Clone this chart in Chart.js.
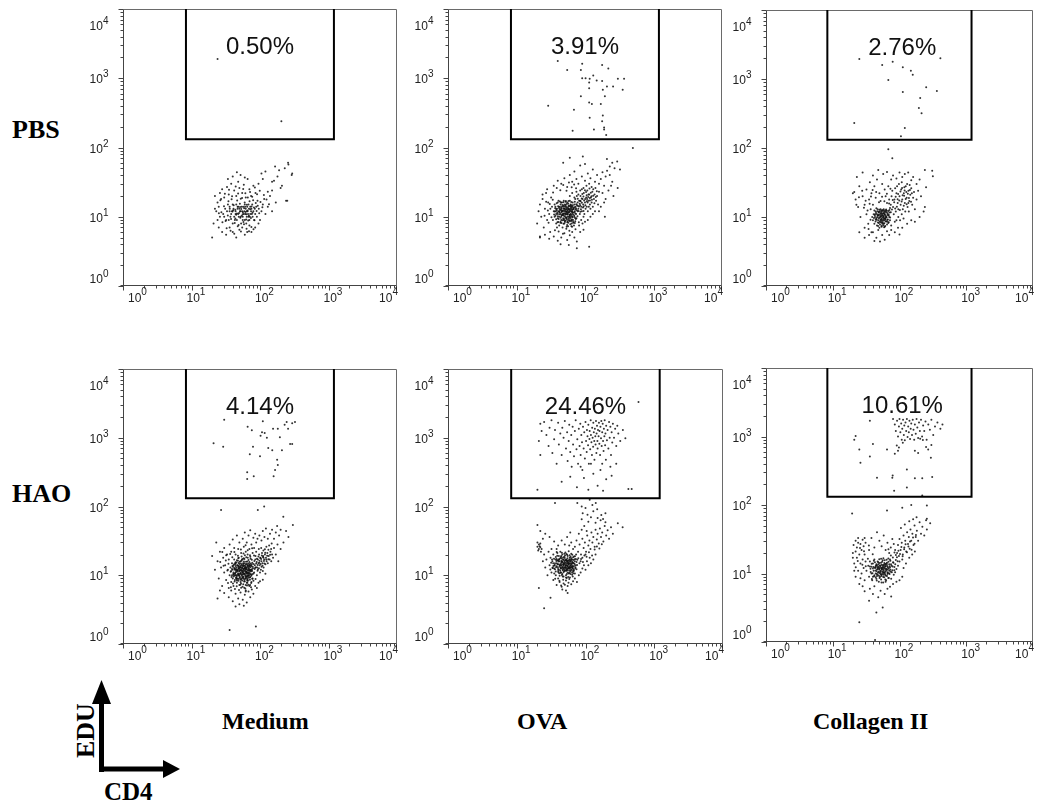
<!DOCTYPE html>
<html>
<head>
<meta charset="utf-8">
<script src="https://cdn.jsdelivr.net/npm/chart.js@4.4.1/dist/chart.umd.min.js"></script>
<style>
  html,body{margin:0;padding:0;background:#fff;width:1044px;height:803px;overflow:hidden;}
  #wrap{position:relative;width:1044px;height:803px;}
  canvas.panel{position:absolute;}
  .lbl{position:absolute;font-family:"Liberation Serif","Times New Roman",serif;font-weight:bold;font-size:24px;color:#000;white-space:nowrap;line-height:1;}
</style>
</head>
<body>
<div id="wrap">
  <div class="lbl" style="left:12px;top:117px;font-size:26px;">PBS</div>
  <div class="lbl" style="left:12px;top:481px;font-size:26px;">HAO</div>
  <div class="lbl" style="left:222px;top:709px;">Medium</div>
  <div class="lbl" style="left:517px;top:709px;">OVA</div>
  <div class="lbl" style="left:813px;top:709px;">Collagen II</div>
  <div class="lbl" style="left:73px;top:758px;transform:rotate(-90deg);transform-origin:0 0;font-size:26px;">EDU</div>
  <div class="lbl" style="left:104px;top:779px;font-size:25px;">CD4</div>
  <svg width="1044" height="803" style="position:absolute;left:0;top:0;pointer-events:none">
    <line x1="101.5" y1="772" x2="101.5" y2="700" stroke="#000" stroke-width="5"/>
    <polygon points="92,704 111,704 101.5,680" fill="#000"/>
    <line x1="99" y1="769" x2="165" y2="769" stroke="#000" stroke-width="5"/>
    <polygon points="163,760 163,778 180,769" fill="#000"/>
  </svg>
</div>
<script>
// ---------- labels & settings ----------
const rowLabels = ['PBS', 'HAO'];
const columnLabels = ['Medium', 'OVA', 'Collagen II'];
const percentages = ['0.50%', '3.91%', '2.76%', '4.14%', '24.46%', '10.61%'];
const tickExponents = [0, 1, 2, 3, 4];
const gateX = [8.3, 1200];
const gateYMin = 132;
const percentLabelX = [100, 100, 110, 100, 100, 110];

// ---------- events: [CD4, EDU] ----------
const pbsMedium = [
[30,10],[33,12],[35,9],[36,14],[38,11],[40,8],[41,13],[42,10],[44,12],[45,15],[46,9],[48,11],[50,13],[52,10],[53,8],[55,12],[57,14],[58,11],[60,9],[62,13],[64,10],[66,12],[68,15],[70,9],[72,11],[75,13],[78,10],[80,12],[85,11],[88,14],
[31,13],[34,15],[37,10],[39,12],[43,9],[47,13],[49,10],[51,12],[54,14],[56,10],[59,12],[61,11],[63,8],[65,14],[67,11],[69,13],[71,10],[74,12],[77,15],[82,9],
[29,11],[32,9],[36,12],[40,15],[44,11],[48,14],[52,12],[56,9],[60,15],[64,12],[68,10],[72,14],[76,11],[84,13],[90,10],
[22,20],[24,16],[26,22],[23,12],[21,8],[25,7],[27,18],[28,25],[30,19],[33,27],[35,21],[38,30],[42,24],[45,20],[48,32],[50,26],[55,22],[58,29],[62,19],[66,35],[70,25],[74,20],[80,28],[86,22],[92,17],[96,13],[100,9],[105,12],[110,15],[115,18],[120,11],[130,14],[140,20],[150,24],
[28,6],[32,5.5],[36,7],[40,6],[45,5],[50,6.5],[55,7],[60,5.5],[65,6],[70,7.5],[75,6],[85,7],[95,8],
[20,5],[34,35],[40,38],[52,40],[60,37],[46,44],[95,30],[105,42],[120,45],[160,33],[180,38],[190,47],[200,26],[230,50],[260,57],[290,40],[250,17],[130,23],[110,35],[150,12],[170,16],[26,10],[25,14],[24,9],[22,13],
[166,53],[257,60],[295,42],[240,17],[150,32],[209,28],
[24,1900],[205,240]
];
const pbsMediumExtra = [
[27.3,11.6],[29.8,14.2],[31.5,8.7],[33.9,10.4],[34.6,16.8],[36.2,13.1],[37.8,9.3],[38.5,17.9],[39.7,11.9],[41.3,14.7],[42.8,8.1],[43.6,12.6],[44.9,10.7],[46.4,17.2],[47.1,13.9],[48.7,7.6],[49.5,11.3],[50.8,15.4],[51.6,9.7],[53.2,12.9],[54.7,18.6],[55.9,10.9],[57.3,8.4],[58.6,13.3],[59.8,16.1],[61.4,11.7],[62.9,9.1],[64.3,14.9],[65.7,12.3],[67.2,8.8],[68.8,10.3],[70.4,16.7],[72.1,12.8],[73.7,9.6],[75.3,14.1],[77.8,11.4],[79.4,17.3],[81.6,13.6],[83.2,8.9],[86.7,15.8],[89.3,12.1],[92.8,14.4],[97.4,11.2],[101.6,16.3],[108.3,13.7],[113.9,20.6],[124.5,17.8],[135.2,15.1],[30.7,21.4],[35.3,24.6],[39.1,19.8],[44.2,27.3],[47.9,21.7],[52.4,18.2],[56.8,25.1],[61.1,21.9],[66.4,18.9],[71.6,22.8],[76.9,19.4],[84.1,26.4],[90.6,21.1],[99.2,23.7],[26.4,17.3],[25.1,11.2],[28.3,8.3],[32.6,6.8],[37.2,6.3],[42.1,5.7],[47.3,7.3],[52.7,6.1],[58.4,7.8],[63.6,6.7],[69.1,6.2],[74.8,7.1],[80.3,6.6],[43.7,9.4],[51.2,13.8],[56.3,11.6],[60.7,13.9],[40.6,12.4],[46.1,11.1],[54.1,10.3],[63.2,10.9]
];

const pbsOva = [
[34,9],[35,12],[36,10],[37,14],[38,8],[38,11],[39,13],[40,9.5],[40,16],[41,12],[42,10],[42,7.5],[43,14],[44,11],[44,8.5],[45,13],[45,9],[46,16],[46,10.5],[47,12],[47,7],[48,14],[48,9.5],[49,11],[49,17],[50,8],[50,13],[51,10],[51,15],[52,12],[52,8.8],[53,11],[53,14],[54,9.5],[54,7.2],[55,12.5],[55,16],[56,10],[56,13.5],[57,8.2],[57,11.5],[58,14.5],[58,9],[59,12],[60,10.5],[60,17],[61,7.8],[61,13],[62,11],[62,15],[63,9],[64,12],[64,8],[65,14],[65,10],[66,16],[67,11.5],[67,9],[68,13],[69,7.5],[70,10],[70,15],[71,12],[72,8.6],[73,14],[74,11],[75,9.5],[36,15],[39,7],[41,17],[43,12.5],[45,10.2],[47,14.8],[50,11.2],[52,16.5],[54,11.8],[56,8.6],[58,12.8],[60,8.8],[62,13.8],[64,10.6],[66,12.6],[68,8.2],[71,16.4],[74,13.2],[44,15],[48,12.2],[53,9.8],[57,15.6],[61,10.8],[37,12],[40,11],[46,12],[51,8.4],[55,10.8],[59,9.8],[63,11.8],[42,13.2],[49,9],[66,9.8],
[80,13],[82,17],[84,11],[86,20],[88,14],[90,12],[92,18],[94,15],[96,22],[98,11],[100,16],[102,13],[104,19],[106,14],[108,24],[110,12],[112,17],[115,21],[118,15],[120,13],[122,19],[125,16],[128,23],[130,14],[135,18],[138,21],[140,12],[145,17],[150,20],[155,15],[78,16],[76,20],[85,24],[95,26],[105,28],[115,30],[125,27],[132,25],[142,26],[160,23],
[60,20],[65,22],[70,19],[75,23],[80,21],[85,17],[90,25],[72,18],[78,12],[88,9],[95,10],[100,8.5],[110,9],[120,10],[130,11],[92,8],[82,7.5],
[20,8],[21,12],[22,15],[23,10],[24,18],[25,7],[26,13],[27,22],[28,9],[29,16],[30,11],[31,6],[32,19],[33,14],[28,25],[24,21],[22,5],[26,5.5],[30,4.8],[35,5.2],[40,4.5],[45,5],[50,5.8],[55,4.6],[60,5.4],[65,6],[70,5],[76,4.4],[85,6],[95,6.5],[115,3.7],[76,3.5],[22,5.2],[58,3.9],[44,4],
[35,28],[40,33],[45,30],[50,36],[55,27],[60,40],[65,32],[70,45],[75,35],[80,30],[90,38],[100,33],[110,42],[120,36],[130,48],[140,32],[150,40],[160,30],[170,35],[180,44],[190,28],[200,38],[210,46],[230,40],[250,32],[270,50],[295,63],[324,48],[209,68],[230,53],[500,98],[93,74],[60,71],[195,10],[48,60],[85,55],[100,58],[250,60],[180,22],[200,18],[170,14],[220,24],[240,28],[260,20],[300,26],[160,12],[190,16],
[40,1780],[55,1320],[91,1620],[178,1550],[219,1380],[87,1320],[91,1000],[102,1000],[117,980],[132,1100],[148,930],[115,870],[178,910],[302,980],[372,980],[209,760],[257,760],[355,680],[115,720],[182,680],[87,550],[195,550],[115,445],[126,425],[170,425],[29,400],[69,350],[182,290],[117,270],[178,240],[190,195],[135,182],[66,174],[204,151],[190,182]
];
const pbsOvaExtra = [
[35.4,10.8],[36.7,13.3],[37.9,9.2],[38.6,15.7],[39.3,11.4],[40.8,8.4],[41.6,13.8],[42.4,10.9],[43.1,16.6],[44.3,9.7],[45.7,12.3],[46.2,14.1],[46.9,8.9],[47.8,11.1],[48.3,16.2],[49.2,10.3],[49.9,13.2],[50.6,8.7],[51.4,12.6],[52.1,14.7],[52.8,9.6],[53.6,11.7],[54.3,15.3],[55.1,8.3],[55.8,10.9],[56.6,13.1],[57.4,16.9],[58.2,9.4],[58.9,11.6],[59.7,14.2],[60.4,8.6],[61.2,12.2],[62.1,10.1],[62.8,16.3],[63.7,13.4],[64.6,9.1],[65.3,11.3],[66.2,14.6],[67.4,8.4],[68.3,12.9],[69.6,10.4],[70.8,13.7],[72.3,11.1],[73.4,9.3],[74.6,15.2],[76.2,12.4],[77.6,10.2],[79.1,14.3],[36.1,11.9],[38.1,12.8],[40.2,10.2],[41.9,11.8],[44.8,13.5],[47.3,10.6],[50.2,12.1],[53.1,13.4],[56.2,12.1],[59.3,10.7],[61.8,14.7],[64.1,12.7],[67.1,10.8],[45.1,11.6],[48.9,14.5],[52.4,11.2],[57.9,12.9],[43.7,8.2],[54.8,7.6],[63.4,7.3],[71.2,8.1],
[83.7,15.4],[87.2,12.8],[89.6,18.3],[93.4,13.6],[97.1,17.2],[101.3,14.7],[105.8,20.4],[109.2,16.1],[113.7,13.9],[117.4,18.7],[121.6,22.3],[126.3,17.6],[131.8,20.1],[137.2,15.7],[143.6,19.3],[148.9,23.4],[91.3,21.3],[99.7,24.1],[107.4,18.1],[116.2,25.6],[86.4,16.7],[94.8,19.6],[103.6,22.8],[112.4,20.9],[124.1,19.8],[78.4,18.2],[81.9,14.1],[85.6,11.8],[95.2,12.1],
[28.7,12.3],[30.6,15.3],[32.4,9.8],[33.8,17.6],[31.2,13.1],[27.1,16.4],[25.7,10.3],[29.4,8.2],[34.2,22.4],[38.7,26.1],[43.6,24.2],[48.1,28.7],[53.7,23.8],[58.3,31.2],[63.9,26.7],[69.4,29.3],[74.1,25.8],[36.4,6.4],[41.2,6.1],[47.6,5.7],[53.4,6.7],[59.1,6.3],[64.8,7.2],[72.6,6.6],[81.3,8.3]
];
const pbsOvaDense = [
[37.1,10.3],[38.8,12.2],[40.5,14.2],[41.3,9.3],[42.6,11.6],[44.1,12.6],[45.4,8.1],[46.6,10.8],[48.1,13.1],[49.6,9.3],[50.9,14.1],[51.7,10.7],[53.3,12.8],[54.6,9.1],[56.1,11.3],[57.1,14.1],[58.6,10.1],[60.1,12.6],[61.6,9.6],[63.1,14.3],[65.1,11.9],[67.6,13.6],[70.1,11.6],[73.1,12.7],[76.6,14.7],[80.6,12.1],[85.1,14.6],[90.1,15.9],[95.6,14.1],[100.6,18.1],[106.1,16.7],[111.1,19.3],[118.1,17.1],[44.6,16.1],[52.6,16.9],[39.6,8.3],[48.6,7.9],[56.6,7.3],[64.1,8.7],[71.6,9.6]
];

const pbsCollagen = [
[40,9],[41,11],[42,8],[43,10],[44,12],[45,9.5],[46,7.5],[46,11],[47,13],[48,9],[48,10.5],[49,8.2],[50,12],[50,9.8],[51,7.8],[51,11],[52,10],[52,13],[53,8.8],[53,11.8],[54,9.4],[54,7.2],[55,10.6],[55,12.6],[56,8.4],[56,9.9],[57,11.4],[57,7.6],[58,10.2],[58,13],[59,8.9],[59,12],[60,9.6],[60,11],[61,7.4],[62,10.4],[62,12.4],[63,8.6],[64,9.8],[64,11.6],[65,7.8],[66,10.8],[67,9.2],[68,12.2],[69,8.4],[70,10],[71,11.6],[72,9],[42,12.4],[44,9.2],[47,10.4],[49,11.8],[52,8.4],[54,11.2],[57,9.2],[60,7.2],[63,12.8],[66,8.6],[45,13.4],[50,7],[55,8],[61,9.4],[68,10.6],[43,11],[58,8],[53,10.2],
[80,14],[84,18],[88,12],[90,22],[94,16],[96,13],[100,20],[104,15],[106,25],[110,18],[112,13],[116,22],[120,16],[124,28],[128,19],[132,14],[136,24],[140,17],[145,21],[150,26],[155,15],[160,19],[165,23],[170,13],[86,26],[92,28],[98,30],[108,32],[118,27],[130,30],[142,29],[76,20],[82,11],[96,10],[108,11],[122,12],[138,12],[102,9],[115,9.5],[74,15],[78,24],[70,18],[65,16],[62,20],[72,13.5],[90,9],[85,8.5],[75,7.5],
[20,22],[22,18],[24,14],[25,28],[26,10],[28,20],[30,7],[30,15],[32,25],[32,11],[34,8],[35,18],[36,32],[37,13],[38,6],[38,22],[39,10],[40,15],[40,40],[42,28],[44,19],[46,35],[50,22],[52,17],[55,30],[57,42],[60,25],[68,28],[75,35],[80,40],[90,36],[100,44],[110,38],[120,42],[150,34],[160,38],[180,30],[200,35],[240,48],[316,39],[309,47],[240,14],[170,8.5],[21,23],[23,38],[48,48],[28,44],[65,45],[135,44],[190,24],[210,20],[180,18],[250,27],[230,12],[200,10],
[35,5.5],[40,6],[45,5],[51,4.4],[60,4.7],[55,5.5],[65,6.2],[70,5.5],[75,6.5],[85,6],[95,7],[110,7],[130,8],[150,9],[42,4.5],[48,6.5],[30,5],[25,6],[100,5.6],
[25,1950],[55,1590],[79,1780],[68,970],[112,1480],[148,1320],[158,1150],[112,650],[251,760],[363,670],[204,530],[195,380],[214,320],[21,230],[120,195],[105,148],[410,2000],[68,96],[78,71]
];
const pbsCollagenExtra = [
[41.4,9.7],[42.7,10.6],[43.8,8.6],[44.6,11.4],[45.3,9.1],[46.7,12.1],[47.5,8.3],[48.4,10.8],[49.1,9.6],[49.8,12.7],[50.6,8.6],[51.3,10.4],[52.4,11.3],[53.1,9.3],[53.8,7.4],[54.6,10.7],[55.3,12.2],[56.1,8.9],[56.9,11.1],[57.7,9.7],[58.4,12.4],[59.2,8.1],[60.1,10.8],[60.9,9.2],[61.8,11.9],[62.6,8.7],[63.5,10.1],[64.4,12.3],[65.6,9.1],[66.7,11.3],[67.8,8.2],[69.2,10.7],[70.6,12.6],[72.4,9.8],[74.1,11.7],[46.2,9.9],[48.9,11.6],[51.8,9.1],[54.2,8.4],[57.2,10.3],[59.7,11.4],[62.3,9.9],[47.8,7.4],[52.9,12.3],[58.8,7.1],
[83.2,16.4],[87.6,19.7],[91.4,14.1],[95.3,21.6],[99.1,17.3],[103.2,23.4],[107.6,16.8],[111.3,20.7],[115.8,14.6],[119.4,24.3],[123.7,18.2],[127.9,15.3],[133.1,21.8],[138.6,18.9],[143.2,24.7],[148.7,16.7],[153.4,22.1],[86.1,13.3],[93.7,18.1],[101.4,12.6],[109.3,26.4],[117.2,20.3],[126.4,23.1],[135.7,15.9],[79.3,17.6],[77.1,12.8],
[33.2,12.4],[35.7,15.6],[37.4,19.8],[31.1,17.2],[29.3,13.6],[27.6,24.1],[24.7,19.3],[22.6,15.1],[36.8,9.1],[34.4,6.7],[39.6,24.6],[44.7,23.1],[49.3,16.4],[54.8,19.6],[59.4,16.9],[64.7,21.7],[69.8,15.7],[73.2,25.6]
];

const haoMedium = [
[36,10],[37,13],[38,8],[38,11.5],[39,15],[40,9],[40,12],[41,7],[41,14],[42,10.5],[42,17],[43,8.5],[43,12.5],[44,11],[44,15.5],[45,9.2],[45,13],[46,7.8],[46,10],[46,16.5],[47,11.8],[47,14],[48,8.8],[48,12.8],[49,10.2],[49,18],[50,7.2],[50,11.4],[50,14.6],[51,9.4],[51,13.2],[52,8],[52,10.8],[52,16],[53,12],[53,6.6],[54,9.8],[54,14.2],[55,11],[55,8.4],[56,12.6],[56,17.2],[57,10.4],[57,7.4],[58,13.8],[58,9],[59,11.6],[59,15],[60,8.2],[60,10.6],[61,12.8],[61,6.4],[62,9.6],[62,14.4],[63,11.2],[63,18.2],[64,7.8],[64,12.2],[65,10],[65,15.8],[66,8.6],[66,13.4],[67,11],[68,9.2],[68,16.6],[69,12.4],[70,7],[70,10.8],[71,14],[72,9.4],[72,12],[73,17.4],[74,10.2],[75,8],[75,13.6],[76,11.4],[77,15.2],[78,9],[79,12.6],[39,10],[41,11],[43,9.8],[45,11.2],[47,9],[49,13.6],[51,11.6],[53,9],[55,13.8],[57,12],[59,8.6],[61,10],[63,13],[65,8.4],[67,14.8],[69,9.8],[71,11.8],[73,10.4],[44,13.6],[48,10.6],[52,13.8],[56,9.4],[60,12.8],[64,9.4],[68,11.6],[72,14.8],[46,8.4],[54,16.2],[62,7.2],[58,17.6],[50,9.8],[66,10.6],[42,14.4],[76,16.8],
[91,13],[93,17],[95,15],[97,20],[99,14],[101,18],[103,12],[105,16],[107,21],[109,15],[111,19],[113,13],[115,17],[118,20],[120,14.5],[122,18],[125,16],[128,21],[130,15],[134,19],[138,17],[142,22],[146,16],[150,20],[155,18],[86,19],[84,14],[88,22],[96,24],[104,25],[112,23],[124,26],[136,27],[148,29],[160,25],[82,11],[90,10],[100,11],[110,11.5],[120,10.5],
[20,19],[22,12],[23,30],[24,16],[25,9],[26,22],[27,13],[28,7],[29,18],[30,11],[30,25],[31,14],[32,8.5],[33,20],[34,12],[35,6.5],[35,17],[36,28],[38,22],[40,33],[42,25],[44,20],[46,38],[48,24],[50,30],[53,21],[56,34],[58,26],[60,42],[62,22],[64,30],[66,20],[68,38],[70,24],[72,45],[75,28],[78,21],[80,35],[82,25],[85,40],[88,30],[92,34],[98,38],[105,32],[110,44],[116,36],[122,48],[130,34],[140,40],[150,46],[160,34],[170,42],[178,52],[190,38],[200,46],[219,71],[302,54],[240,44],[260,36],[220,30],[200,24],[180,28],[170,20],[185,16],[36,1.6],[87,1.8],[27,89],[93,89],[115,100],
[30,5.5],[35,4.8],[38,6],[40,4.2],[44,5.4],[48,4.6],[50,3.8],[52,5.6],[56,4.4],[60,5.2],[64,4],[68,5.8],[72,4.8],[76,6.2],[80,5.4],[85,7],[90,6.5],[95,7.8],[100,8.2],[110,8.6],[44,3.5],[58,3.6],[62,6],[26,6],[24,4.6],
[30,1820],[21,830],[29,740],[66,1440],[110,1740],[155,1350],[182,1350],[245,1700],[295,1620],[257,1350],[195,1020],[126,1000],[102,1070],[132,710],[151,660],[209,660],[295,810],[79,740],[71,575],[100,540],[178,480],[182,400],[166,340],[158,275],[65,316],[81,275],[65,251],[107,1200],[117,1175],[76,1290],[229,1550],[324,1700],[275,810]
];
const haoMediumExtra = [
[37.3,11.2],[38.4,9.4],[39.6,13.6],[40.7,10.4],[41.8,12.7],[42.6,8.1],[43.4,14.9],[44.2,10.1],[45.1,12.2],[45.8,9.7],[46.6,13.9],[47.3,11.3],[48.1,8.3],[48.9,15.1],[49.6,11.9],[50.4,9.1],[51.2,12.9],[51.9,10.7],[52.7,14.8],[53.4,8.7],[54.1,11.5],[54.9,13.1],[55.6,9.3],[56.4,10.9],[57.1,14.4],[57.9,12.3],[58.6,8.1],[59.4,10.3],[60.2,13.7],[60.9,11.5],[61.7,9.1],[62.5,15.7],[63.3,10.6],[64.1,12.7],[64.9,8.9],[65.8,11.8],[66.6,14.1],[67.5,9.9],[68.4,12.1],[69.3,10.2],[70.2,13.3],[71.3,8.6],[72.5,11.3],[73.6,13.9],[74.8,9.8],[76.1,12.2],[77.4,10.3],[38.9,12.3],[41.1,9.6],[43.9,11.9],[46.1,11.7],[48.6,13.4],[50.9,10.4],[53.8,12.6],[56.8,11.3],[59.1,12.6],[61.3,13.4],[63.8,11.2],[66.2,9.6],[68.9,13.6],[44.7,9.1],[49.2,12.4],[55.2,10.2],[62.2,12.1],[57.6,9.6],[52.3,11.9],[47.7,10.3],[70.7,11.6],[45.4,15.3],[58.3,15.9],[40.3,7.6],[51.6,7.3],[64.6,7.1],[74.3,7.7],
[89.4,15.6],[92.6,14.1],[94.8,18.7],[98.2,16.3],[102.4,14.6],[106.3,19.4],[108.7,13.7],[112.6,17.9],[116.4,14.8],[119.1,21.3],[123.4,16.9],[127.2,19.2],[132.3,17.1],[87.3,13.1],[96.4,12.6],[103.8,17.2],[114.2,16.1],[85.4,16.9],[80.6,14.6],[83.7,12.3],[92.1,11.6],[140.4,19.8],[145.3,24.1],[117.8,23.8],[132.6,23.4],
[29.4,13.8],[31.7,16.4],[33.4,11.7],[34.6,14.7],[32.1,19.6],[28.2,21.7],[26.3,15.6],[36.7,20.4],[39.4,18.3],[42.3,21.7],[47.6,19.2],[52.6,23.6],[57.4,20.8],[61.6,27.4],[66.1,23.1],[71.4,19.6],[76.7,24.7],[81.8,19.3],[34.1,7.7],[37.6,6.7],[43.1,6.3],[49.4,6.1],[55.7,6.8],[61.8,5.8],[67.8,7.3],[73.9,6.7],[80.2,8.3],[86.1,8.8]
];
const haoMediumDense = [
[40.2,13.3],[41.5,10.1],[42.9,12.1],[44.1,14.6],[45.3,8.8],[46.4,11.9],[47.6,16.3],[48.5,9.9],[49.4,12.6],[50.6,15.7],[51.5,8.6],[52.3,13.1],[53.2,10.3],[54.4,16.9],[55.3,11.6],[56.2,9.1],[57.2,13.6],[58.1,10.6],[59.3,17.3],[60.5,12.3],[61.5,8.9],[62.4,11.1],[63.4,14.6],[64.6,10.9],[65.4,13.9],[66.7,8.3],[67.7,12.9],[68.6,10.7],[69.9,15.6],[71.1,9.3],[72.7,13.1],[74.1,11.9],[75.6,14.4],[77.1,8.9],[78.3,13.3],[80.4,10.6],[82.7,16.1],[85.1,12.9],[87.8,14.8],[90.3,17.4],[93.2,12.1],[97.6,15.2],[101.2,17.8],[105.3,13.3],[110.6,18.4],[48.1,17.6],[53.9,18.8],[60.1,19.6],[66.3,17.9],[72.2,18.6],[45.7,6.9],[52.8,7.6],[58.9,6.6],[65.3,7.8],[71.8,7.2],[43.3,10.6],[56.7,14.9],[63.1,9.6],[70.4,14.3],[76.3,11.7]
];

const haoOva = [
[30,14],[31,18],[32,11],[33,16],[34,20],[35,12.5],[36,15],[37,10],[37,18.5],[38,13.5],[39,16.5],[39,21],[40,11.5],[40,14.5],[41,12],[41,19],[42,16],[42,9.8],[43,13],[43,22],[44,15],[44,11],[45,17.5],[45,13.8],[46,10.4],[46,20],[47,14.4],[47,12.2],[48,16.8],[48,9.6],[49,13],[49,18.6],[50,11.6],[50,15.4],[51,21.5],[51,12.8],[52,14],[52,10],[53,17],[53,12],[54,15.6],[54,19.8],[55,11],[55,13.6],[56,16.4],[56,9.4],[57,12.6],[57,22.4],[58,14.8],[58,10.8],[59,18],[60,13],[60,11.2],[61,15.8],[62,12],[62,20.6],[63,14.2],[64,10.2],[64,17],[65,12.8],[66,15.2],[67,11.4],[68,18.8],[68,13.6],[70,16],[70,10.6],[72,14],[73,20],[74,12.2],[76,16.8],[36,12.2],[38,17.2],[42,13.6],[44,18.4],[46,15.6],[48,12.6],[50,17.8],[52,16.2],[54,12.4],[56,14.2],[58,16.6],[60,15],[62,16.8],[64,13.6],[66,11.6],[44,12.8],[40,16.4],[48,14.2],[52,11.6],[58,12.4],[34,13.6],[66,18.2],
[20,26],[21,24],[21,28],[22,25.5],[20.5,23],[22,29],[21.5,26.5],[23,24],[20,30],[22.5,22],
[78,22],[82,28],[86,20],[90,34],[94,25],[98,30],[102,22],[106,38],[110,27],[114,32],[118,24],[122,42],[126,30],[130,36],[136,26],[140,46],[146,33],[150,40],[156,29],[162,48],[168,36],[175,42],[182,31],[190,52],[200,38],[210,45],[220,34],[235,50],[250,40],[80,40],[88,46],[96,52],[104,44],[70,26],[74,32],[66,24],[62,30],[58,27],[54,36],[60,42],[50,28],[45,32],[40,27],[35,31],[30,36],[26,40],[25,20],[24,16],[26,13],[28,10],[27,17],[29,22],[24,34],[22,44],[20,54],[32,24],[38,24],
[91,80],[107,76],[166,63],[195,59],[295,57],[347,50],[76,112],[126,105],[141,112],[36,112],[148,91],[195,80],[120,70],[100,95],[130,85],[150,68],[170,75],[88,65],[110,60],[140,58],[180,66],[115,125],[88,100],
[25,3.3],[31,4.7],[21,6.5],[55,5.5],
[34,8.5],[38,7.2],[42,8],[45,6.8],[48,7.6],[52,8.4],[55,7],[58,8.8],[62,7.4],[66,8.2],[70,9],[75,8],[80,10],[85,11],[90,12.5],[95,14],[100,12],[105,16],[110,14],[115,18],[120,15],[130,17],[140,20],[85,16],[90,18],[100,20],[46,6.2],[52,6],[40,9],
[22,1600],[23,1250],[21,900],[22,560],[25,1700],[27,1100],[29,760],[30,1400],[32,1800],[33,600],[35,950],[36,1300],[38,420],[40,1650],[41,800],[43,1150],[45,560],[46,1400],[48,1000],[50,1750],[52,700],[54,1200],[55,460],[57,900],[58,1550],[60,620],[62,1100],[63,380],[65,1450],[66,800],[68,540],[70,1250],[72,1800],[74,680],[76,950],[78,420],[80,1350],[82,760],[84,1600],[85,560],[87,1100],[89,860],[90,340],[92,1450],[94,700],[96,1200],[98,500],[100,1700],[102,900],[104,620],[105,1300],[107,1050],[109,780],[110,1550],[112,420],[114,960],[115,1250],[117,680],[119,1800],[120,1100],[122,860],[124,560],[125,1400],[127,1000],[129,740],[130,1650],[132,1200],[134,900],[135,480],[137,1350],[139,1050],[140,800],[142,1750],[144,600],[145,1150],[147,1500],[149,900],[150,700],[152,1300],[155,1050],[157,1650],[159,820],[160,1250],[163,560],[165,1450],[168,980],[170,1750],[172,760],[175,1200],[178,1600],[180,900],[183,640],[185,1350],[188,1050],[190,1800],[193,780],[195,1150],[198,480],[200,1500],[205,920],[210,1300],[215,700],[220,1700],[225,1000],[230,1450],[235,560],[240,1200],[245,850],[250,1600],[260,1000],[270,1350],[280,760],[290,1500],[300,1150],[320,900],[350,1300],[380,980],[420,180],[470,180],[45,230],[75,190],[110,175],[150,200],[180,170],[95,260],[130,300],[165,340],[200,250],[240,280],[60,270],[85,380],[120,420],[175,420],[230,380],[280,420],[20,175],[590,3300]
];
const haoOvaExtra = [
[31.6,15.2],[33.3,12.7],[34.8,17.4],[35.7,14.1],[36.9,11.3],[37.7,16.1],[38.8,19.2],[39.7,13.1],[40.6,15.8],[41.4,10.7],[42.3,14.3],[43.2,17.8],[43.9,12.4],[44.7,16.2],[45.4,10.1],[46.3,13.2],[47.2,18.1],[47.9,15.1],[48.8,11.4],[49.6,14.7],[50.4,19.4],[51.3,13.6],[52.2,16.7],[53.1,11.7],[53.9,14.8],[54.7,17.6],[55.6,12.7],[56.4,15.3],[57.3,10.6],[58.2,13.2],[59.1,16.9],[60.1,14.1],[61.2,11.8],[62.2,17.7],[63.3,12.9],[64.4,15.7],[65.6,13.3],[66.8,16.6],[68.1,11.9],[69.4,14.6],[70.8,12.6],[72.4,17.3],[39.2,14.4],[41.8,17.2],[44.1,14.2],[46.8,11.8],[49.1,16.1],[51.8,15.1],[54.3,13.6],[57.1,14.6],[59.7,12.8],[62.7,14.8],[45.6,15.9],[50.6,13.1],[55.2,16.1],[48.2,13.7],[42.9,11.6],[53.6,10.4],[60.8,10.4],[66.3,10.7],[37.3,13.1],[35.1,10.6],[33.9,14.9],[30.8,12.1],[32.6,16.9],[38.1,21.7],[45.3,21.2],[52.7,20.3],[58.7,19.6],[64.2,19.8],[70.3,18.9],[75.4,14.1],[78.6,17.6],[81.7,14.9],[86.2,17.2],[91.7,15.6],[96.4,19.3],[103.7,18.6],[112.3,21.6],[124.7,19.4],[135.8,23.6],[146.3,26.1],[159.2,24.4],[172.6,28.3],
[41.7,8.3],[47.4,8.6],[53.3,9.1],[59.4,9.3],[65.2,9.6],[36.2,8.9],[44.2,7.1],[50.1,7.3],[56.6,7.8]
];
const haoOvaDense = [
[38.2,14.9],[39.9,12.3],[41.1,16.9],[42.7,13.9],[43.6,10.9],[44.9,15.6],[46.1,12.9],[47.1,16.9],[47.9,11.1],[48.6,14.6],[49.8,12.1],[50.9,16.6],[51.9,14.1],[52.9,12.9],[53.8,16.1],[54.6,11.9],[55.9,14.9],[57.1,13.1],[58.6,15.9],[59.8,13.6],[61.1,16.4],[62.6,13.3],[64.1,15.1],[65.9,12.3],[67.6,14.9],[69.6,17.1],[71.6,13.1],[74.1,15.6],[44.3,19.1],[49.3,20.6],[55.1,19.1],[60.6,18.6],[40.3,11.1],[46.6,9.6],[52.1,9.3],[57.8,11.7],[63.8,11.1],[36.6,16.9],[35.3,13.9],[33.1,12.9]
];

const haoCollagen = [
[32,11],[34,13],[35,9],[36,15],[37,10.5],[38,12.5],[39,8],[40,14],[41,11],[42,9.4],[42,16],[43,12],[44,10],[45,13.6],[45,8.4],[46,11.4],[47,15],[47,9.6],[48,12.6],[49,10.6],[49,7.6],[50,14.2],[50,11.8],[51,9],[52,13],[52,10.2],[53,16.4],[53,8.2],[54,11.6],[55,14.8],[55,9.8],[56,12.4],[57,10.4],[57,7.4],[58,13.4],[58,11],[59,8.8],[60,15.6],[60,12],[61,9.6],[62,10.8],[62,13.8],[63,8],[64,11.6],[65,14.4],[65,9.2],[66,12.6],[67,10.2],[68,16.6],[68,8.6],[69,11.8],[70,13.6],[71,9.8],[72,12.2],[73,15.4],[74,10.6],[75,8.4],[76,13],[78,11.2],[80,14.6],[82,9.6],[84,12.4],[86,10.4],[88,15.8],[90,11.6],[38,10],[40,11.8],[44,12.8],[46,9.2],[48,14.6],[52,11],[54,9.2],[56,15.6],[58,9.6],[60,10.4],[62,12.6],[64,14],[66,9.8],[70,11],[72,16],[46,13.2],[50,10.2],[54,13.4],[58,12.2],[44,8.8],[40,9],[36,12.6],[62,7.6],
[20,20],[20.5,26],[21,14],[22,30],[22,9],[23,17],[23,24],[24,11],[24,33],[25,19],[25,7],[26,14],[26,27],[27,22],[27,10],[28,16],[28,31],[29,12],[29,25],[30,19],[30,8],[31,28],[31,15],[20,17],[21,11],[22,21],[24,28],[26,8.5],[28,6.5],[30,33],
[92,20],[95,26],[98,18],[100,32],[104,22],[108,28],[112,19],[115,36],[118,24],[122,30],[126,21],[130,40],[134,27],[138,34],[142,23],[146,44],[150,30],[156,38],[162,26],[168,50],[175,34],[182,42],[190,30],[200,56],[210,38],[220,48],[235,36],[250,60],[257,44],[105,46],[120,52],[140,58],[160,62],[180,66],[86,22],[82,27],[78,32],[74,24],[70,20],[66,28],[62,22],[58,36],[54,25],[50,30],[46,40],[42,24],[38,33],[35,22],[100,15],[110,16],[125,14],[140,17],[155,19],[170,21],[95,13],[115,12],
[25,1.95],[43,1.07],[45,2.7],[56,3.2],[19.5,75],[65,83],[110,91],[257,98],[257,63],[288,54],[150,100],[35,4],[40,5],[48,4.5],[52,5.6],[60,5],[66,6],[72,6.4],[80,7],[90,7.6],[36,6],[42,6.5],[30,5.5],[100,8],[110,9],[75,4.6],
[22,1020],[21,900],[25,645],[26,415],[36,1700],[40,780],[36,510],[46,250],[65,645],[79,270],[78,250],[85,560],[83,162],[129,330],[129,180],[170,245],[219,245],[309,257],[219,138],[95,620],[91,740],[98,690],[112,810],[170,620],[190,575],[269,645],[295,490],[224,890],[204,930],
[80,1800],[85,1500],[88,1200],[92,1700],[95,1000],[98,1400],[100,1800],[103,1150],[106,1550],[108,900],[110,1300],[113,1750],[116,1050],[118,1450],[120,880],[123,1600],[126,1200],[129,1800],[132,980],[135,1400],[138,1150],[141,1700],[144,920],[147,1300],[150,1550],[154,1050],[158,1750],[162,1250],[166,900],[170,1500],[175,1100],[180,1800],[185,1350],[190,950],[196,1600],[202,1200],[210,1750],[218,1000],[226,1450],[235,1200],[245,1650],[255,900],[270,1500],[285,1250],[300,1750],[320,1050],[340,1400],[370,1600],[410,1300],[440,1500],[300,750],[250,700]
];
const haoCollagenExtra = [
[36.8,11.7],[38.3,13.9],[39.4,10.1],[40.7,12.4],[41.6,9.1],[42.9,14.6],[43.7,11.1],[44.6,13.1],[45.7,9.8],[46.4,12.3],[47.6,10.3],[48.3,13.6],[49.5,11.4],[50.3,8.6],[51.2,12.4],[51.9,10.7],[52.8,14.3],[53.6,9.6],[54.4,12.1],[55.3,10.6],[56.2,13.2],[57.1,8.9],[58.1,11.5],[59.2,14.2],[60.3,10.1],[61.4,12.9],[62.6,9.3],[63.7,11.2],[64.8,13.3],[65.9,10.4],[67.1,12.2],[68.4,14.9],[69.7,10.1],[71.2,12.8],[72.8,11.3],[74.6,13.7],[76.7,10.4],[78.9,12.6],[81.2,14.3],[83.6,11.2],[86.4,13.7],[43.2,12.2],[47.1,11.7],[50.7,13.1],[54.7,11.3],[58.6,12.9],[62.1,11.6],[66.3,11.4],[45.3,10.8],[49.1,9.3],[53.2,11.9],[57.6,10.2],[52.3,9.7],[48.8,12.1],[55.8,11.8],[60.7,13.6],[41.2,15.3],[49.7,16.1],[57.3,16.7],[64.2,15.9],[38.6,8.3],[45.6,7.9],[53.8,7.4],[61.3,8.2],[69.1,8.6],
[91.6,17.3],[96.3,21.4],[101.8,19.2],[106.7,24.3],[111.4,17.8],[117.3,22.6],[123.2,26.7],[129.4,20.4],[136.1,24.8],[143.7,29.4],[151.6,22.3],[159.4,33.6],[167.8,27.1],[176.3,36.4],[88.2,18.6],[93.7,15.1],[84.1,20.3],[79.6,17.1],[74.2,18.3],[68.3,22.6],[33.6,16.4],[31.2,12.8],[29.4,21.2],[27.8,13.4],[25.6,23.6],[23.7,15.2],[22.1,12.3],[34.8,25.7],[39.7,19.1]
];

const panelData = [
  pbsMedium.concat(pbsMediumExtra),
  pbsOva.concat(pbsOvaExtra, pbsOvaDense),
  pbsCollagen.concat(pbsCollagenExtra),
  haoMedium.concat(haoMediumExtra, haoMediumDense),
  haoOva.concat(haoOvaExtra, haoOvaDense),
  haoCollagen.concat(haoCollagenExtra)
];

// panel placement: plot-area left, top, width, height (pixels)
const panelBoxes = [
  [123, 9, 274, 277], [448, 9, 274, 277], [766, 10, 267, 276],
  [123, 369, 274, 275], [448, 369, 275, 275], [766, 368, 267, 274]
];
const PAD_L = 48, PAD_T = 6, PAD_R = 12, PAD_B = 26;

const flowPlugin = {
  id: 'flowDecor',
  afterDatasetsDraw(chart, args, opts) {
    const ctx = chart.ctx, ca = chart.chartArea;
    const xs = chart.scales.x, ys = chart.scales.y;
    const L = Math.round(ca.left) + 0.5, B = Math.round(ca.bottom) - 0.5;
    const R = Math.round(ca.right) - 0.5, T = Math.round(ca.top) + 0.5;
    ctx.save();
    ctx.strokeStyle = '#6a6a6a'; ctx.lineWidth = 1;
    ctx.beginPath();
    ctx.moveTo(L, T); ctx.lineTo(R, T); ctx.lineTo(R, B);
    ctx.stroke();
    ctx.strokeStyle = '#444';
    ctx.beginPath();
    ctx.moveTo(L, T); ctx.lineTo(L, B + 1); ctx.moveTo(L - 3, B); ctx.lineTo(R, B);
    ctx.stroke();
    ctx.beginPath();
    for (let d = 0; d < 4; d++) {
      for (let m = 1; m <= 9; m++) {
        const v = m * Math.pow(10, d);
        const len = m === 1 ? 5 : 3;
        const px = Math.round(xs.getPixelForValue(v)) + 0.5;
        const py = Math.round(ys.getPixelForValue(v)) + 0.5;
        ctx.moveTo(px, B); ctx.lineTo(px, B + len);
        ctx.moveTo(L, py); ctx.lineTo(L - len, py);
      }
    }
    const px4 = Math.round(xs.getPixelForValue(10000)) - 0.5;
    const py4 = Math.round(ys.getPixelForValue(10000)) + 0.5;
    ctx.moveTo(px4, B); ctx.lineTo(px4, B + 5);
    ctx.moveTo(L, py4); ctx.lineTo(L - 5, py4);
    ctx.stroke();
    const bigFont = '12px "Liberation Sans", Arial, sans-serif';
    const supFont = '10px "Liberation Sans", Arial, sans-serif';
    ctx.fillStyle = '#222'; ctx.textBaseline = 'alphabetic'; ctx.textAlign = 'left';
    tickExponents.forEach((e) => {
      const v = Math.pow(10, e);
      ctx.font = bigFont; const w1 = ctx.measureText('10').width;
      ctx.font = supFont; const w2 = ctx.measureText(String(e)).width;
      let ty = ys.getPixelForValue(v);
      if (e === 4) ty = ca.top + 16;
      if (e === 0) ty = ca.bottom - 8;
      const yx = L - 15 - (w1 + w2);
      ctx.font = bigFont; ctx.fillText('10', yx, ty + 5);
      ctx.font = supFont; ctx.fillText(String(e), yx + w1, ty - 1);
      const tx = xs.getPixelForValue(v);
      let sx;
      if (e === 0) sx = tx + 5;
      else if (e === 4) sx = tx + 1 - (w1 + w2);
      else sx = tx - 5;
      ctx.font = bigFont; ctx.fillText('10', sx, B + 16);
      ctx.font = supFont; ctx.fillText(String(e), sx + w1, B + 9);
    });
    const gx1 = xs.getPixelForValue(gateX[0]), gx2 = xs.getPixelForValue(gateX[1]);
    const gy = ys.getPixelForValue(gateYMin);
    ctx.strokeStyle = '#000'; ctx.lineWidth = 2;
    ctx.beginPath();
    ctx.moveTo(gx1, ca.top); ctx.lineTo(gx1, gy); ctx.lineTo(gx2, gy); ctx.lineTo(gx2, ca.top);
    ctx.stroke();
    ctx.font = '24px "Liberation Sans", Arial, sans-serif';
    ctx.fillStyle = '#111'; ctx.textAlign = 'center'; ctx.textBaseline = 'middle';
    ctx.fillText(opts.text, xs.getPixelForValue(opts.labelX), ca.top + 38);
    ctx.restore();
  }
};

const wrap = document.getElementById('wrap');
panelData.forEach((pts, i) => {
  const [pl, pt, pw, ph] = panelBoxes[i];
  const cv = document.createElement('canvas');
  cv.className = 'panel';
  const W = PAD_L + pw + PAD_R, H = PAD_T + ph + PAD_B;
  cv.width = W; cv.height = H;
  cv.style.left = (pl - PAD_L) + 'px'; cv.style.top = (pt - PAD_T) + 'px';
  cv.style.width = W + 'px'; cv.style.height = H + 'px';
  wrap.appendChild(cv);
  new Chart(cv, {
    type: 'scatter',
    data: { datasets: [{
      label: rowLabels[Math.floor(i / 3)] + ' / ' + columnLabels[i % 3],
      data: pts.map(p => ({ x: p[0], y: p[1] })),
      pointRadius: 1, pointHoverRadius: 1, borderWidth: 0,
      pointBackgroundColor: 'rgba(15,15,15,0.85)', pointBorderWidth: 0
    }]},
    options: {
      responsive: false, animation: false, events: [], devicePixelRatio: 1,
      layout: { padding: { top: PAD_T, right: PAD_R, left: 0, bottom: 0 } },
      plugins: {
        legend: { display: false }, tooltip: { enabled: false },
        flowDecor: { text: percentages[i], labelX: percentLabelX[i] }
      },
      scales: {
        x: { type: 'logarithmic', min: 1, max: 10000,
             grid: { display: false }, border: { display: false }, ticks: { display: false },
             afterFit(s) { s.height = PAD_B; } },
        y: { type: 'logarithmic', min: 1, max: 10000,
             grid: { display: false }, border: { display: false }, ticks: { display: false },
             afterFit(s) { s.width = PAD_L; } }
      }
    },
    plugins: [flowPlugin]
  });
});
</script>
</body>
</html>
